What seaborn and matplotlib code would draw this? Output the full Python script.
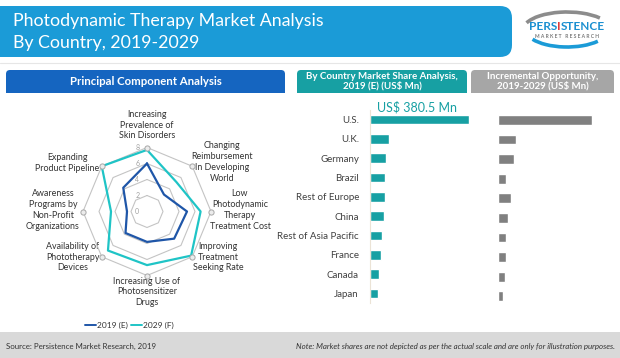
import numpy as np
import pandas as pd
import matplotlib
matplotlib.use("Agg")
import matplotlib.pyplot as plt
from matplotlib.patches import FancyBboxPatch, Rectangle, Arc
import seaborn as sns

# ---- data ----
factors = ["Increasing\nPrevalence of\nSkin Disorders",
           "Changing\nReimbursement\nIn Developing\nWorld",
           "Low\nPhotodynamic\nTherapy\nTreatment Cost",
           "Improving\nTreatment\nSeeking Rate",
           "Increasing Use of\nPhotosensitizer\nDrugs",
           "Availability of\nPhototherapy\nDevices",
           "Awareness\nPrograms by\nNon-Profit\nOrganizations",
           "Expanding\nProduct Pipeline"]
score_2019 = [6.0, 3.0, 5.0, 4.8, 3.8, 3.8, 2.5, 4.2]
score_2029 = [7.7, 5.2, 6.7, 7.8, 6.7, 6.9, 4.5, 8.0]
ring_ticks = [0, 2, 4, 6, 8]

countries = ["U.S.", "U.K.", "Germany", "Brazil", "Rest of Europe", "China",
             "Rest of Asia Pacific", "France", "Canada", "Japan"]
share_2019 = [380.5, 73, 62, 59, 58, 54, 47, 42, 34, 32]
incremental = [94, 18, 16, 8, 13, 10, 8, 8, 7, 5]

W, H = 620, 358
BLUE = "#1b9bd7"
DARK_BLUE = "#1565c0"
TEAL = "#17a0a3"
GREY_HEAD = "#a6a6a6"
C2019 = "#1f56a8"
C2029 = "#1fc4c6"

sns.set_theme(style="white")
plt.rcParams['font.family'] = ['Lato', 'DejaVu Sans']


def box(x, y, w, h):
    # pixel box (top-left origin) -> figure fraction
    return [x / W, 1 - (y + h) / H, w / W, h / H]


fig = plt.figure(figsize=(W / 100, H / 100), dpi=100)
bg = fig.add_axes([0, 0, 1, 1])
bg.set_xlim(0, W)
bg.set_ylim(H, 0)
bg.axis('off')

# title banner
bg.add_patch(FancyBboxPatch((-30, 6), 542, 51, boxstyle="round,pad=0,rounding_size=12",
                            fc=BLUE, ec="none"))
bg.text(13, 21, "Photodynamic Therapy Market Analysis", color="white", fontsize=12.8, va="center")
bg.text(13, 43, "By Country, 2019-2029", color="white", fontsize=12.8, va="center")
bg.plot([0, W], [63, 63], color="#e6e6e6", lw=0.8)

# logo
bg.add_patch(Arc((567, 30), 88, 36, theta1=190, theta2=340, color="#8c8c8c", lw=2.6))
bg.add_patch(Arc((567, 30), 82, 34, theta1=20, theta2=165, color=BLUE, lw=2.6))
fig.canvas.draw()
rend = fig.canvas.get_renderer()
x0 = 529
for part, col in [("PERS", "#1a8fd0"), ("I", "#e03a3a"), ("STENCE", "#1a8fd0")]:
    t = bg.text(x0, 27, part, color=col, fontsize=8.5, fontweight="bold", va="center")
    bb = t.get_window_extent(rend)
    x0 = bg.transData.inverted().transform((bb.x1, bb.y0))[0]
bg.text(567, 37, "M A R K E T   R E S E A R C H", color="#7a7a7a", fontsize=3.6,
        fontweight="bold", ha="center", va="center")

# section headers
def header(x, w, color, text, fs):
    bg.add_patch(FancyBboxPatch((x, 70), w, 23, boxstyle="round,pad=0,rounding_size=4",
                                fc=color, ec="none"))
    bg.add_patch(Rectangle((x, 82), w, 11, fc=color, ec="none"))
    bg.text(x + w / 2, 81.5, text, color="white", fontsize=fs, fontweight="bold",
            ha="center", va="center", linespacing=1.0)

header(6, 279, DARK_BLUE, "Principal Component Analysis", 8.2)
header(297, 170, TEAL, "By Country Market Share Analysis,\n2019 (E) (US$ Mn)", 7)
header(471, 143, GREY_HEAD, "Incremental Opportunity,\n2019-2029 (US$ Mn)", 7)

# footer
bg.add_patch(Rectangle((0, 332), W, 30, fc="#d9d9d9", ec="none"))
bg.text(6, 346, "Source: Persistence Market Research, 2019", fontsize=5.7, color="#333333",
        va="center")
bg.text(615, 346, "Note: Market shares are not depicted as per the actual scale and are only "
        "for illustration purposes.", fontsize=5.7, color="#333333", style="italic",
        va="center", ha="right")

# ---- radar ----
cx, cy, R = 147, 211.5, 64
rad = fig.add_axes(box(cx - R, cy - R, 2 * R, 2 * R))
rad.set_xlim(-8, 8)
rad.set_ylim(-8, 8)
rad.axis('off')
theta = np.linspace(0, 2 * np.pi, len(factors), endpoint=False)
sx, sy = np.sin(theta), np.cos(theta)
close = lambda a: np.append(a, a[0])
for r in ring_ticks[1:]:
    rad.plot(close(r * sx), close(r * sy), color="#c4c4c4", lw=0.8, zorder=1)
for r in ring_ticks:
    rad.annotate(str(r), (0, r), xytext=(-7, 0), textcoords="offset points",
                 fontsize=5, color="#a0a0a0", ha="center", va="center")
rad.plot(close(np.array(score_2019) * sx), close(np.array(score_2019) * sy),
         color=C2019, lw=1.6, zorder=3)
rad.plot(close(np.array(score_2029) * sx), close(np.array(score_2029) * sy),
         color=C2029, lw=1.6, zorder=3)
rad.scatter(8 * sx, 8 * sy, s=14, fc="#ececec", ec="#a8a8a8", lw=0.7, zorder=4, clip_on=False)

label_pos = [(147, 125, "center"), (222, 162, "center"), (240, 210, "center"),
             (218, 257, "center"), (147, 292, "center"), (73, 257, "center"),
             (53, 210, "center"), (67, 163, "center")]
for lab, (lx, ly, ha) in zip(factors, label_pos):
    bg.text(lx, ly, lab, fontsize=6.4, color="#333333", ha=ha, va="center",
            multialignment="center", linespacing=1.25)

# legend
for x1, col, lab in [(85, C2019, "2019 (E)"), (131, C2029, "2029 (F)")]:
    bg.plot([x1, x1 + 11], [325, 325], color=col, lw=1.4)
    bg.text(x1 + 12, 325, lab, fontsize=6, color="#333333", va="center")

# ---- bar charts ----
df = pd.DataFrame({"country": countries, "share": share_2019, "incr": incremental})

ax1 = fig.add_axes(box(370, 110, 104, 193))
sns.barplot(data=df, x="share", y="country", color=TEAL, saturation=1, width=0.5, ax=ax1)
ax1.set_xlim(0, 400)
ax1.set_xticks([])
ax1.set_xlabel("")
ax1.set_ylabel("")
ax1.tick_params(axis="y", length=0, pad=8, labelsize=7, labelcolor="#404040")
for s in ["top", "right", "bottom"]:
    ax1.spines[s].set_visible(False)
ax1.spines["left"].set_color("#ebe3d6")
ax1.spines["left"].set_linewidth(0.8)
ax1.patch.set_alpha(0)
bg.text(417, 107, "US$ 380.5 Mn", color=TEAL, fontsize=9, ha="center", va="center")

ax2 = fig.add_axes(box(498, 110, 100, 196))
sns.barplot(data=df, x="incr", y="country", color="#808080", saturation=1, width=0.5, ax=ax2)
ax2.set_xlim(0, 100)
ax2.set_xticks([])
ax2.set_yticks([])
ax2.set_xlabel("")
ax2.set_ylabel("")
for s in ax2.spines.values():
    s.set_visible(False)
ax2.patch.set_alpha(0)

fig.savefig("out.png", dpi=100)
